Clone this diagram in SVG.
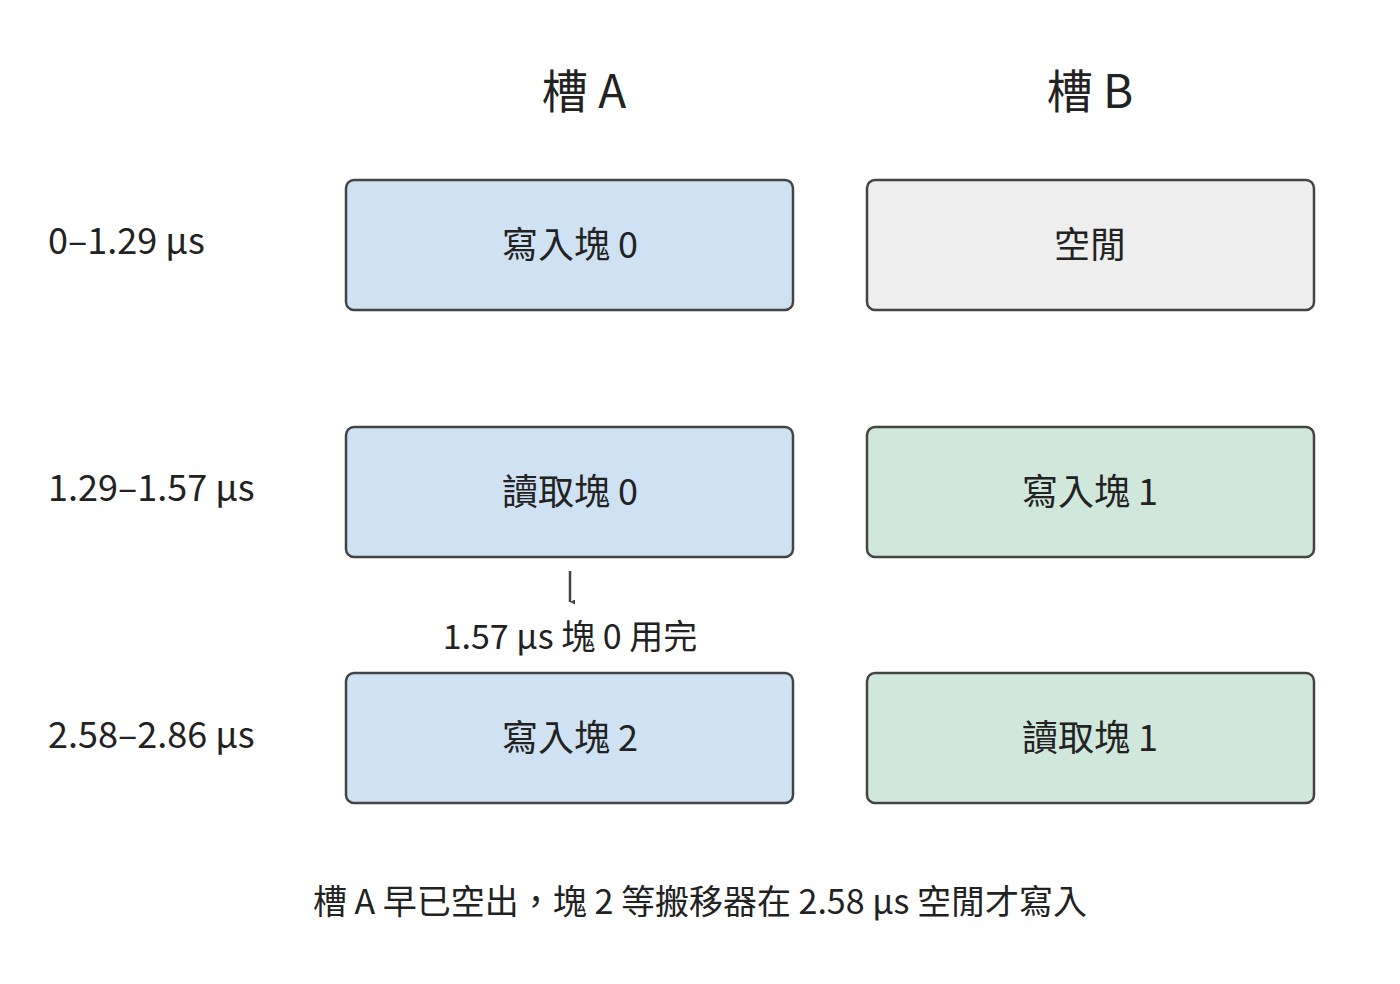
<svg xmlns="http://www.w3.org/2000/svg" width="1400" height="984" viewBox="0 0 1400 984">
<style>
text{font-family:"Noto Sans CJK TC","Noto Sans",sans-serif;fill:#222;}
.h{font-size:46px;text-anchor:middle;}
.l{font-size:36px;}
.t{font-size:36px;text-anchor:middle;}
.s{font-size:34px;text-anchor:middle;}
rect{stroke:#444;stroke-width:2.5;}
.b{fill:#cfe2f3}.g{fill:#eeeeee}.n{fill:#d0e7dc}
</style>
<defs><marker id="ah" viewBox="0 0 10 10" refX="5" refY="10" markerWidth="5" markerHeight="5" markerUnits="userSpaceOnUse" orient="auto"><path d="M0,0 L10,0 L5,10 Z" fill="#444"/></marker></defs>
<rect width="1400" height="984" fill="#fff" style="stroke:none"/>
<text class="h" x="584" y="108">槽 A</text>
<text class="h" x="1090" y="108">槽 B</text>
<text class="l" x="48" y="254">0–1.29 μs</text>
<text class="l" x="48" y="501">1.29–1.57 μs</text>
<text class="l" x="48" y="748">2.58–2.86 μs</text>
<g id="a0"><rect class="b" x="346" y="180" width="447" height="130" rx="8"/><text class="t" x="570" y="258">寫入塊 0</text></g>
<g id="b0"><rect class="g" x="867" y="180" width="447" height="130" rx="8"/><text class="t" x="1090" y="258">空閒</text></g>
<g id="a1"><rect class="b" x="346" y="427" width="447" height="130" rx="8"/><text class="t" x="570" y="505">讀取塊 0</text></g>
<g id="b1"><rect class="n" x="867" y="427" width="447" height="130" rx="8"/><text class="t" x="1090" y="505">寫入塊 1</text></g>
<g id="a2"><rect class="b" x="346" y="673" width="447" height="130" rx="8"/><text class="t" x="570" y="751">寫入塊 2</text></g>
<g id="b2"><rect class="n" x="867" y="673" width="447" height="130" rx="8"/><text class="t" x="1090" y="751">讀取塊 1</text></g>
<g id="connectors"><line x1="570" y1="571" x2="570" y2="602" stroke="#444" stroke-width="2.5" marker-end="url(#ah)"/></g>
<text class="s" x="570" y="649">1.57 μs 塊 0 用完</text>
<text class="s" x="700" y="914">槽 A 早已空出，塊 2 等搬移器在 2.58 μs 空閒才寫入</text>
</svg>
